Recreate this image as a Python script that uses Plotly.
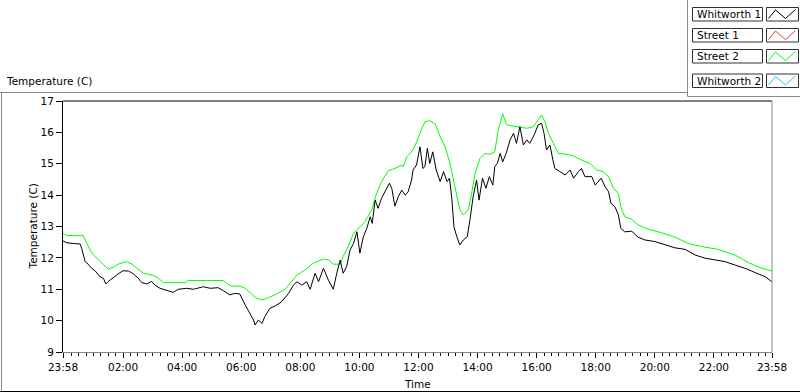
import pandas as pd
import plotly.graph_objects as go

# ---------------- data ----------------
series_names = ["Whitworth 1", "Street 1", "Street 2", "Whitworth 2"]
series_colors = ["#000000", "#ff3030", "#00ff00", "#33bbff"]

start_time = "2024-01-01 23:58"

# Whitworth 1 (black) : minutes after 23:58, temperature (C)
whitworth1_min = [0, 8, 21, 35, 38, 45, 51, 58, 65, 75, 82, 87, 92, 102, 112, 122, 133, 143, 153, 160,
                  170, 180, 187, 197, 211, 224, 234, 251, 265, 285, 299, 315, 326, 339, 349, 359, 370, 380, 387, 390,
                  397, 404, 410, 420, 431, 444, 458, 468, 475, 485, 495, 502, 512, 519, 529, 539, 549, 556, 563, 569,
                  576, 583, 590, 597, 603, 610, 617, 624, 628, 634, 640, 647, 654, 663, 668, 674, 681, 688, 695, 701,
                  708, 711, 718, 725, 731, 735, 740, 745, 751, 758, 766, 773, 780, 785, 790, 794, 800, 806, 813, 821,
                  827, 833, 840, 845, 852, 859, 866, 873, 877, 882, 888, 893, 900, 908, 915, 921, 928, 935, 942, 948,
                  957, 965, 972, 977, 982, 989, 995, 999, 1009, 1020, 1030, 1037, 1047, 1053, 1060, 1074, 1081, 1087, 1093, 1101,
                  1108, 1113, 1121, 1128, 1133, 1141, 1155, 1168, 1182, 1202, 1223, 1243, 1264, 1284, 1304, 1323, 1345, 1365, 1385, 1406,
                  1426, 1440]
whitworth1_temp = [12.54, 12.48, 12.46, 12.44, 12.30, 11.88, 11.80, 11.67, 11.59, 11.40, 11.35, 11.17, 11.25, 11.38, 11.49, 11.59, 11.58, 11.49, 11.35, 11.21,
                   11.17, 11.25, 11.13, 11.03, 10.95, 10.90, 11.00, 11.03, 11.00, 11.08, 11.03, 11.05, 10.95, 10.82, 10.87, 10.85, 10.50, 10.23, 10.02, 9.86,
                   10.02, 9.91, 10.13, 10.39, 10.47, 10.60, 10.87, 11.13, 11.24, 11.13, 11.24, 11.00, 11.51, 11.24, 11.67, 11.29, 11.00, 11.51, 11.93, 11.51,
                   11.72, 12.25, 12.46, 12.83, 12.15, 12.67, 12.94, 13.31, 13.10, 13.84, 13.58, 13.90, 14.11, 14.38, 14.20, 13.65, 13.95, 14.16, 14.00, 14.11,
                   14.48, 14.80, 14.96, 15.54, 14.85, 14.91, 15.49, 15.01, 15.38, 14.80, 14.43, 14.75, 14.43, 14.54, 13.84, 12.99, 12.67, 12.41, 12.57, 12.67,
                   13.26, 13.95, 14.48, 13.84, 14.54, 14.22, 14.59, 14.32, 14.91, 15.01, 15.33, 15.06, 15.33, 15.76, 15.97, 15.65, 16.18, 15.60, 15.76, 15.65,
                   15.92, 16.24, 16.29, 15.97, 15.44, 15.60, 15.12, 14.85, 14.75, 14.64, 14.80, 14.54, 14.75, 14.85, 14.59, 14.59, 14.32, 14.43, 14.54, 14.27,
                   14.11, 13.74, 13.63, 13.37, 12.94, 12.83, 12.85, 12.66, 12.57, 12.52, 12.43, 12.32, 12.27, 12.09, 11.99, 11.93, 11.88, 11.77, 11.67, 11.53,
                   11.40, 11.24]

# Street 2 (green)
street2_min = [0, 8, 41, 48, 55, 62, 72, 82, 92, 102, 112, 129, 140, 150, 163, 183, 194, 204, 224, 248,
               254, 278, 326, 332, 343, 359, 370, 380, 390, 404, 417, 434, 451, 464, 475, 491, 508, 529, 539, 549,
               563, 569, 579, 590, 600, 613, 627, 637, 647, 661, 674, 688, 691, 698, 708, 715, 725, 735, 745, 756,
               766, 776, 786, 796, 806, 813, 823, 830, 837, 847, 857, 867, 877, 884, 893, 901, 915, 928, 942, 955,
               965, 972, 979, 986, 996, 1006, 1020, 1037, 1053, 1070, 1084, 1097, 1108, 1118, 1128, 1133, 1141, 1155, 1168, 1189,
               1216, 1243, 1270, 1297, 1331, 1365, 1392, 1419, 1440]
street2_temp = [12.78, 12.71, 12.71, 12.46, 12.25, 12.09, 11.93, 11.77, 11.64, 11.70, 11.80, 11.88, 11.80, 11.67, 11.51, 11.45, 11.35, 11.21, 11.21, 11.21,
                11.28, 11.28, 11.28, 11.19, 11.10, 11.10, 11.03, 10.89, 10.74, 10.66, 10.73, 10.85, 11.00, 11.24, 11.45, 11.61, 11.83, 11.96, 11.94, 11.80,
                11.80, 12.04, 12.36, 12.78, 12.94, 13.15, 13.53, 14.06, 14.43, 14.78, 14.85, 14.96, 14.90, 15.22, 15.38, 15.57, 15.97, 16.34, 16.37, 16.27,
                15.86, 15.54, 15.01, 14.22, 13.53, 13.37, 13.53, 14.06, 14.70, 15.17, 15.33, 15.30, 15.38, 16.08, 16.59, 16.24, 16.20, 16.18, 16.13, 16.18,
                16.42, 16.55, 16.34, 15.97, 15.65, 15.33, 15.31, 15.25, 15.12, 15.01, 14.80, 14.75, 14.59, 14.22, 14.06, 13.63, 13.31, 13.23, 13.05, 12.91,
                12.80, 12.66, 12.46, 12.36, 12.27, 12.09, 11.85, 11.67, 11.58]

tick_minutes = [0, 122, 242, 362, 482, 602, 722, 842, 962, 1082, 1202, 1322, 1440]
tick_labels = ["23:58", "02:00", "04:00", "06:00", "08:00", "10:00", "12:00",
               "14:00", "16:00", "18:00", "20:00", "22:00", "23:58"]

y_range = [9, 17]

# ---------------- build ----------------
t0 = pd.Timestamp(start_time)
def to_time(mins):
    return [t0 + pd.Timedelta(minutes=m) for m in mins]

FONT = "DejaVu Sans"
FS = 10.5
W, H = 800, 392
L, R, T, B = 63, 772, 101, 352

def px(x):
    return (x - L) / (R - L)

def py(y):
    return (B - y) / (B - T)

fig = go.Figure()
fig.add_trace(go.Scatter(x=to_time(street2_min), y=street2_temp, mode="lines",
                         line=dict(color=series_colors[2], width=1),
                         name=series_names[2], showlegend=False))
fig.add_trace(go.Scatter(x=to_time(whitworth1_min), y=whitworth1_temp, mode="lines",
                         line=dict(color=series_colors[0], width=1),
                         name=series_names[0], showlegend=False))

shapes = []
annotations = []

# plot frame (sunken look)
shapes.append(dict(type="line", xref="paper", yref="paper", x0=0, x1=1, y0=1, y1=1,
                   line=dict(color="#000000", width=1)))
shapes.append(dict(type="line", xref="paper", yref="paper", x0=1, x1=1, y0=0, y1=1,
                   line=dict(color="#8a8a8a", width=1)))

# outer panel frame
shapes.append(dict(type="line", xref="paper", yref="paper", x0=px(0), x1=px(687.5), y0=py(92.5), y1=py(92.5),
                   line=dict(color="#8a8a8a", width=1)))
shapes.append(dict(type="line", xref="paper", yref="paper", x0=px(1.5), x1=px(1.5), y0=py(92.5), y1=py(391),
                   line=dict(color="#8a8a8a", width=1)))
shapes.append(dict(type="line", xref="paper", yref="paper", x0=px(0), x1=px(800), y0=py(391.5), y1=py(391.5),
                   line=dict(color="#000000", width=1)))
# legend panel frame
shapes.append(dict(type="line", xref="paper", yref="paper", x0=px(687.5), x1=px(687.5), y0=py(0), y1=py(96.5),
                   line=dict(color="#8a8a8a", width=1)))
shapes.append(dict(type="line", xref="paper", yref="paper", x0=px(687.5), x1=px(800), y0=py(96.5), y1=py(96.5),
                   line=dict(color="#8a8a8a", width=1)))

# legend entries
row_tops = [7.5, 28.5, 49.5, 74.0]
row_h = 13.5
for name, color, top in zip(series_names, series_colors, row_tops):
    bot = top + row_h
    shapes.append(dict(type="rect", xref="paper", yref="paper",
                       x0=px(692.5), x1=px(762.5), y0=py(bot), y1=py(top),
                       line=dict(color="#303030", width=1), fillcolor="white"))
    shapes.append(dict(type="rect", xref="paper", yref="paper",
                       x0=px(766.5), x1=px(798.5), y0=py(bot), y1=py(top),
                       line=dict(color="#303030", width=1), fillcolor="white"))
    zx = [768.5, 775.5, 785.5, 795.5]
    zy = [bot - 2.5, top + 2.5, bot - 2.5, top + 2]
    path = "M {} {} L {} {} L {} {} L {} {}".format(
        px(zx[0]), py(zy[0]), px(zx[1]), py(zy[1]), px(zx[2]), py(zy[2]), px(zx[3]), py(zy[3]))
    shapes.append(dict(type="path", xref="paper", yref="paper", path=path,
                       line=dict(color=color, width=1)))
    annotations.append(dict(xref="paper", yref="paper", x=px(695), y=py(top + row_h / 2),
                            xanchor="left", yanchor="middle", text=name, showarrow=False,
                            font=dict(family=FONT, size=FS, color="#000000")))

# chart caption
annotations.append(dict(xref="paper", yref="paper", x=px(4), y=py(81), xanchor="left", yanchor="middle",
                        text="Temperature (C)", showarrow=False,
                        font=dict(family=FONT, size=FS, color="#000000")))
# axis titles
annotations.append(dict(xref="paper", yref="paper", x=0.5, y=py(384), xanchor="center", yanchor="middle",
                        text="Time", showarrow=False,
                        font=dict(family=FONT, size=FS, color="#000000")))
annotations.append(dict(xref="paper", yref="paper", x=px(32), y=0.5, xanchor="center", yanchor="middle",
                        text="Temperature (C)", textangle=-90, showarrow=False,
                        font=dict(family=FONT, size=FS, color="#000000")))

fig.update_layout(
    width=W, height=H,
    margin=dict(l=L, r=W - R, t=T, b=H - B, autoexpand=False),
    paper_bgcolor="white", plot_bgcolor="white",
    font=dict(family=FONT, size=FS, color="#000000"),
    showlegend=False,
    shapes=shapes, annotations=annotations,
    xaxis=dict(
        type="date",
        range=[t0, t0 + pd.Timedelta(minutes=1440)],
        tickvals=to_time(tick_minutes), ticktext=tick_labels,
        ticks="outside", ticklen=5, tickwidth=1, tickcolor="#000000",
        showline=True, linecolor="#8a8a8a", linewidth=1,
        showgrid=False, zeroline=False,
        minor=dict(ticks="outside", ticklen=3, tickwidth=1, tickcolor="#000000",
                   dtick=15 * 60 * 1000, tick0="2024-01-02 00:00", showgrid=False),
        tickfont=dict(family=FONT, size=FS, color="#000000"),
        fixedrange=True,
    ),
    yaxis=dict(
        range=y_range, dtick=1, tick0=9,
        ticks="outside", ticklen=6, tickwidth=1, tickcolor="#000000",
        showline=True, linecolor="#000000", linewidth=1,
        showgrid=False, zeroline=False,
        tickfont=dict(family=FONT, size=FS, color="#000000"),
        fixedrange=True,
    ),
)

fig.write_html(
    "out.html",
    config={"displayModeBar": False, "staticPlot": True},
    post_script="document.body.style.margin='0px';document.body.style.overflow='hidden';",
)
